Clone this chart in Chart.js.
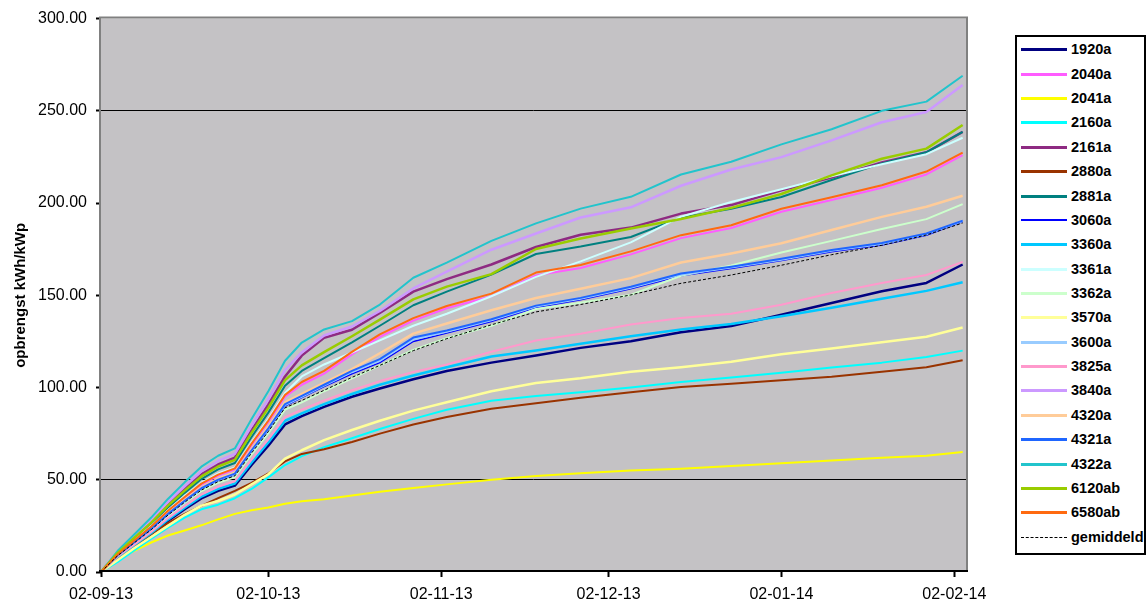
<!DOCTYPE html>
<html>
<head>
<meta charset="utf-8">
<script src="https://cdn.jsdelivr.net/npm/chart.js@4.4.0/dist/chart.umd.min.js"></script>
<style>
  body { margin: 0; background: #fff; font-family: "Liberation Sans", Arial, sans-serif; }
  #wrap { position: relative; width: 1146px; height: 604px; }
  #legend { position: absolute; left: 1015px; top: 35px; width: 127px; height: 516px;
            border: 2px solid #000; background: #fff; }
  .item { position: absolute; left: 0; width: 127px; height: 20px; }
  .swatch { position: absolute; left: 4px; width: 46px; }
  .label { position: absolute; left: 54px; top: 0; font-size: 14.5px; font-weight: bold;
           line-height: 20px; color: #000; white-space: nowrap; }
</style>
</head>
<body>
<div id="wrap">
  <canvas id="chart" width="1146" height="604"></canvas>
  <div id="legend"></div>
</div>
<script>
// days since 02-09-13
const days = [0, 3, 6, 9, 12, 15, 18, 21, 24, 27, 30, 33, 36, 40, 45, 50, 56, 62, 70, 78, 86, 95, 104, 113, 122, 131, 140, 148, 154.5];

const tickDays = [0, 30, 61, 91, 122, 153];
const tickLabels = ['02-09-13', '02-10-13', '02-11-13', '02-12-13', '02-01-14', '02-02-14'];

// cumulative yield per installation (kWh/kWp)
const s1920a = [0, 8, 14.3, 20.6, 27.7, 34, 39.9, 44, 46.8, 58, 68.5, 80, 84.5, 89.5, 95, 99.5, 104.5, 109, 113.5, 117.4, 121.5, 125.1, 130, 133.3, 139.5, 145.8, 152.2, 156.7, 166.7];
const s2040a = [0, 9.5, 17, 24.5, 32.9, 40.3, 47.4, 52.3, 55.6, 68.9, 81.3, 95, 101.5, 107.5, 118, 127.5, 136.3, 143, 149.5, 160.8, 164.8, 172.2, 181, 186.5, 195.3, 201.7, 208.3, 215.5, 226];
const s2041a = [0, 7.5, 11.5, 16, 19.8, 22.5, 25.3, 28.5, 31.5, 33.5, 35, 37, 38.3, 39.5, 41.5, 43.5, 45.5, 47.5, 50, 52, 53.5, 55, 56, 57.5, 59, 60.5, 62, 63, 65];
const s2160a = [0, 5.5, 11.8, 18, 24, 29.5, 34, 36.5, 40, 45, 51.3, 58, 62.8, 67.6, 72.5, 77.5, 83, 88, 92.8, 95.4, 97.5, 100, 103, 105.5, 108, 110.8, 113.5, 116.5, 120];
const s2161a = [0, 10.6, 19, 27.3, 36.7, 45, 52.9, 58.3, 62, 76.9, 90.7, 106, 117.3, 127, 131.3, 140.5, 152, 158.8, 166.7, 176.2, 182.8, 186.7, 194.3, 198.9, 206.9, 213.8, 222, 227.5, 238.6];
const s2880a = [0, 7, 14, 20.5, 26.5, 31.5, 35.8, 40, 44, 48.3, 53.5, 60, 64, 66.5, 70.5, 75, 80, 84, 88.5, 91.5, 94.5, 97.5, 100.3, 102, 104, 105.8, 108.5, 111, 114.8];
const s2881a = [0, 10.1, 18.1, 26, 34.9, 42.9, 50.4, 55.6, 59.1, 73.2, 86.4, 101, 109, 116, 124.5, 133.5, 144.6, 152, 161.2, 172.4, 176.4, 181.6, 192.1, 196.9, 203.3, 212.5, 221.5, 227.5, 238.6];
const s3060a = [0, 9, 16.1, 23.2, 31.1, 38.2, 44.9, 49.5, 52.7, 65.2, 77, 90, 94.5, 100.5, 107.5, 113.5, 125, 129.5, 135.8, 143.4, 147.6, 153.6, 160.6, 164.5, 168.8, 173.6, 177.3, 182.5, 190];
const s3360a = [0, 8.2, 14.7, 21.1, 28.4, 34.8, 40.9, 45.1, 48, 59.4, 70.2, 82, 86, 91, 96.5, 101.5, 106.5, 111, 116.8, 120.1, 123.7, 127.8, 131.4, 134.5, 138.6, 143.2, 148.1, 152.4, 157.1];
const s3361a = [0, 9.7, 17.4, 25, 33.5, 41.2, 48.4, 53.4, 56.7, 70.3, 83, 97, 106, 112.5, 119, 125.6, 133.5, 140, 149.5, 160, 168.4, 178.7, 192.6, 200.6, 207.5, 214.5, 221, 226.5, 235.4];
const s3362a = [0, 8.8, 15.8, 22.7, 30.4, 37.4, 43.9, 48.4, 51.5, 63.8, 75.3, 88, 92, 98, 105, 112, 120.4, 126.8, 133.5, 142.6, 146, 150.2, 160.6, 166.2, 173.2, 179.5, 185.9, 191.3, 199.4];
const s3570a = [0, 6.5, 13, 19, 25, 31, 36, 38.5, 42, 47.5, 53, 61.5, 66, 71.5, 77, 82, 87.5, 92, 98, 102.5, 105, 108.5, 111, 114, 118, 121.2, 124.5, 127.5, 132.5];
const s3600a = [0, 9, 16, 23, 31, 38, 45, 49.8, 53, 65.5, 77.5, 90.5, 95, 101, 108.3, 114.5, 126, 130.2, 136.4, 143.9, 148.1, 154.1, 161.2, 165, 169.3, 174.1, 177.8, 183, 190.2];
const s3825a = [0, 8.4, 15, 21.7, 29.1, 35.7, 41.9, 46.2, 49.2, 60.9, 71.9, 84, 88, 93, 98.5, 103.5, 108.5, 112.5, 119.4, 125.5, 129.1, 134.2, 137.7, 140, 144.9, 151.3, 156.7, 161, 168.1];
const s3840a = [0, 11, 19.6, 28.2, 37.9, 46.5, 54.6, 60.2, 64, 79.3, 93.7, 109.5, 119, 128.2, 133.1, 141.5, 153.7, 162.8, 174.7, 183.5, 192.2, 197.7, 209.4, 218.2, 224.9, 234, 243.8, 249.4, 264];
const s4320a = [0, 9.2, 16.5, 23.7, 31.8, 39, 45.9, 50.6, 53.8, 66.6, 78.7, 92, 96.5, 102.5, 110, 118.6, 129.2, 134.7, 141.9, 148.5, 153.6, 159.3, 167.8, 172.7, 178.2, 185.4, 192.5, 198, 204];
const s4321a = [0, 9.1, 16.3, 23.5, 31.5, 38.6, 45.4, 50.1, 53.3, 66, 77.9, 91, 95.5, 101.5, 109, 115.4, 127.1, 130.9, 137, 144.4, 148.6, 154.6, 161.8, 165.5, 169.8, 174.6, 178.3, 183.5, 190.5];
const s4322a = [0, 11.5, 20.5, 29.5, 39.6, 48.6, 57.1, 63, 67, 83, 98, 114.5, 124.4, 131.5, 136, 145, 159.5, 167.7, 179.5, 189, 197, 203.4, 215.5, 222.4, 231.8, 240, 250, 255, 269];
const s6120ab = [0, 10.4, 18.6, 26.8, 36, 44.1, 51.8, 57.2, 60.8, 75.4, 89, 104, 112, 119.2, 127.8, 136.8, 147.8, 154.7, 161.5, 175.1, 180.8, 186.2, 191.4, 197.4, 204.9, 215, 224, 229.5, 242.3];
const s6580ab = [0, 9.6, 17.2, 24.7, 33.2, 40.7, 47.9, 52.8, 56.2, 69.6, 82.1, 96, 103, 109, 119.3, 128.8, 137.6, 144.2, 150.9, 162.3, 166.4, 173.8, 182.6, 188, 196.9, 203.2, 209.7, 217.1, 227.3];
const gemiddeld = [0, 8.9, 15.9, 22.9, 30.8, 37.8, 44.4, 49, 52.1, 64.5, 76.1, 89, 93, 98.5, 105.5, 112, 120, 126.5, 134, 141, 145, 150.2, 156.5, 161, 166.3, 172, 177.1, 182.7, 189.2];

// name, values, colour, line width
const series = [
  ['1920a', s1920a, '#000080', 2.5],
  ['2040a', s2040a, '#ff5cff', 2],
  ['2041a', s2041a, '#ffff00', 2],
  ['2160a', s2160a, '#00ffff', 2],
  ['2161a', s2161a, '#8e2a82', 2.5],
  ['2880a', s2880a, '#993300', 2],
  ['2881a', s2881a, '#008080', 2],
  ['3060a', s3060a, '#0000ff', 1.5],
  ['3360a', s3360a, '#00c8ff', 2.5],
  ['3361a', s3361a, '#ccffff', 2],
  ['3362a', s3362a, '#ccffcc', 2],
  ['3570a', s3570a, '#ffff99', 2.5],
  ['3600a', s3600a, '#99ccff', 2],
  ['3825a', s3825a, '#ff99cc', 2],
  ['3840a', s3840a, '#cc99ff', 2.5],
  ['4320a', s4320a, '#ffcc99', 2.5],
  ['4321a', s4321a, '#1f66ff', 2],
  ['4322a', s4322a, '#22c4cc', 2],
  ['6120ab', s6120ab, '#99cc00', 2.5],
  ['6580ab', s6580ab, '#ff6a10', 2],
  ['gemiddeld', gemiddeld, '#000000', 1]
];

const datasets = series.map(([name, vals, color, width], i) => ({
  label: name,
  data: days.map((d, j) => ({ x: d, y: vals[j] })),
  borderColor: color,
  backgroundColor: color,
  borderWidth: width,
  borderDash: name === 'gemiddeld' ? [3, 2] : [],
  pointRadius: 0,
  tension: 0,
  borderJoinStyle: 'round',
  order: series.length - i   // later series on top, like the original
}));

// grey plot area with its frame
const plotFrame = {
  id: 'plotFrame',
  beforeDraw(chart) {
    const { ctx, chartArea: a } = chart;
    ctx.save();
    ctx.fillStyle = '#c4c2c5';
    ctx.fillRect(a.left, a.top, a.right - a.left, a.bottom - a.top);
    ctx.restore();
  },
  afterDraw(chart) {
    const { ctx, chartArea: a } = chart;
    ctx.save();
    ctx.lineWidth = 2;
    ctx.strokeStyle = '#808080';
    ctx.beginPath();
    ctx.moveTo(a.left - 1, a.bottom);
    ctx.lineTo(a.left - 1, a.top - 1);
    ctx.lineTo(a.right + 1, a.top - 1);
    ctx.lineTo(a.right + 1, a.bottom);
    ctx.stroke();
    ctx.strokeStyle = '#000';
    ctx.beginPath();
    ctx.moveTo(a.left - 2, a.bottom - 1);
    ctx.lineTo(a.right + 2, a.bottom - 1);
    ctx.stroke();
    ctx.restore();
  }
};

const font = { family: '"Liberation Sans", Arial, sans-serif', size: 16 };

new Chart(document.getElementById('chart'), {
  type: 'line',
  data: { datasets },
  options: {
    responsive: false,
    animation: false,
    layout: { padding: { top: 17, right: 180, left: 0, bottom: 0 } },
    plugins: { legend: { display: false }, tooltip: { enabled: false } },
    scales: {
      x: {
        type: 'linear',
        min: 0,
        max: 155.1,
        afterFit: s => { s.height = 32; },
        afterBuildTicks: s => { s.ticks = tickDays.map(v => ({ value: v })); },
        border: { display: false },
        grid: { drawOnChartArea: false, tickColor: '#000', tickLength: 5, tickWidth: 2 },
        ticks: {
          autoSkip: false, maxRotation: 0, minRotation: 0, padding: 8,
          color: '#000', font,
          callback: (v, i) => tickLabels[i]
        }
      },
      y: {
        min: 0,
        max: 300,
        afterFit: s => { s.width = 101; },
        border: { display: false },
        grid: {
          color: c => (c.tick && (c.tick.value === 50 || c.tick.value === 250)) ? '#000' : 'rgba(0,0,0,0)',
          lineWidth: 1,
          tickColor: '#000', tickLength: 5, tickWidth: 2
        },
        ticks: {
          stepSize: 50, padding: 9, color: '#000', font,
          callback: v => v.toFixed(2)
        },
        title: {
          display: true,
          text: 'opbrengst kWh/kWp',
          color: '#000',
          font: { family: font.family, size: 15, weight: 'bold' },
          padding: { top: 12, bottom: 0 }
        }
      }
    }
  },
  plugins: [plotFrame]
});

// legend box on the right
const legend = document.getElementById('legend');
series.forEach(([name, vals, color, width], i) => {
  const item = document.createElement('div');
  item.className = 'item';
  item.style.top = (2.3 + 24.37 * i) + 'px';
  const sw = document.createElement('div');
  sw.className = 'swatch';
  if (name === 'gemiddeld') {
    sw.style.top = '10px';
    sw.style.borderTop = '1px dashed #000';
    sw.style.height = '0';
  } else {
    const h = Math.round(width + 0.5);
    sw.style.top = (10.5 - h / 2) + 'px';
    sw.style.height = h + 'px';
    sw.style.background = color;
  }
  const lb = document.createElement('span');
  lb.className = 'label';
  lb.textContent = name;
  item.appendChild(sw);
  item.appendChild(lb);
  legend.appendChild(item);
});
</script>
</body>
</html>
